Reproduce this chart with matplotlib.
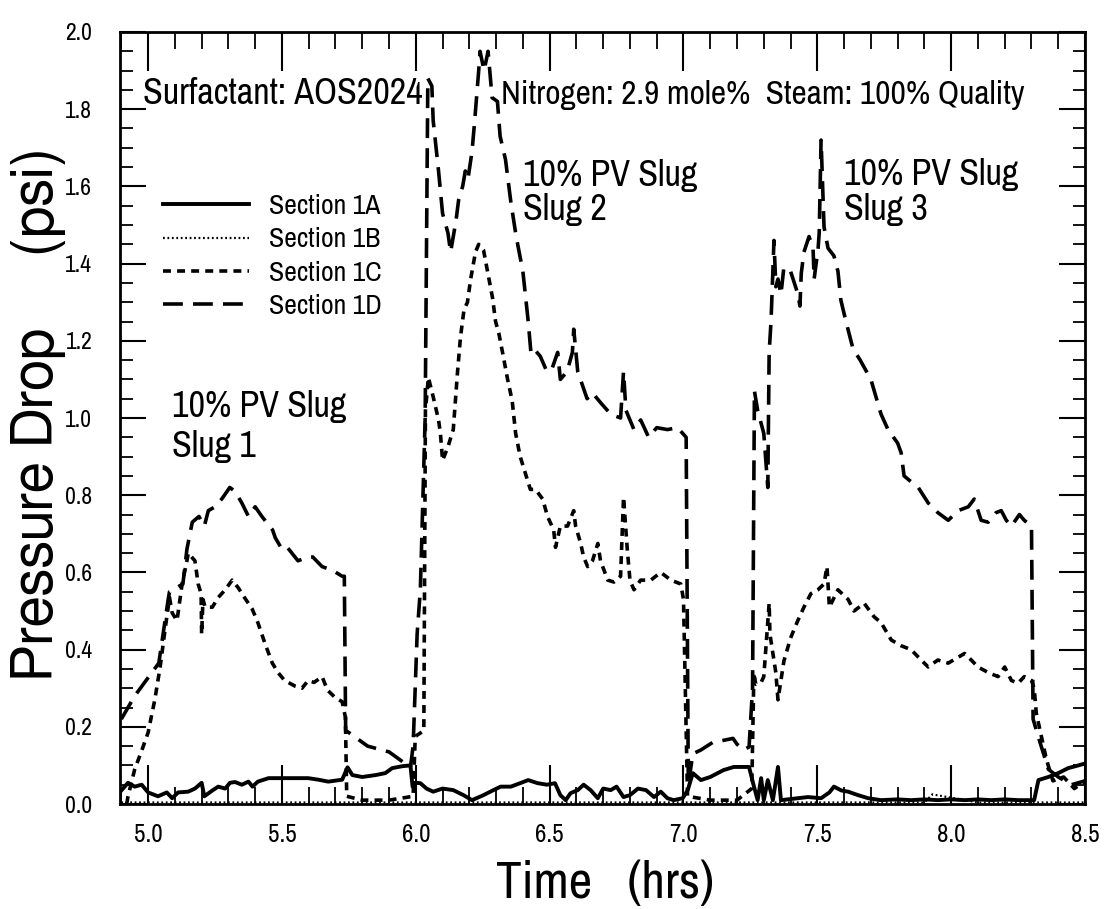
import matplotlib
matplotlib.use("Agg")
import matplotlib.pyplot as plt
from matplotlib.ticker import MultipleLocator, FormatStrFormatter

NARROW = ["Archivo Narrow", "PT Sans Narrow", "Liberation Sans", "DejaVu Sans"]
REGULAR = ["FreeSans", "Liberation Sans", "DejaVu Sans"]

# ---- Section 1A (solid) ----
time_1a = [4.90, 4.925, 4.95, 4.976, 5.00, 5.037, 5.07, 5.09, 5.112, 5.15, 5.175, 5.20,
           5.21, 5.24, 5.262, 5.288, 5.306, 5.325, 5.35, 5.375, 5.39, 5.41, 5.45, 5.486,
           5.52, 5.56, 5.598, 5.636, 5.673, 5.725, 5.745, 5.763, 5.80, 5.85, 5.886, 5.912,
           5.95, 5.98, 5.988, 5.998, 6.017, 6.04, 6.065, 6.10, 6.14, 6.178, 6.21, 6.253,
           6.29, 6.317, 6.355, 6.39, 6.42, 6.455, 6.49, 6.52, 6.54, 6.56, 6.578, 6.605,
           6.627, 6.653, 6.68, 6.70, 6.728, 6.75, 6.776, 6.80, 6.83, 6.86, 6.89, 6.915,
           6.94, 6.963, 6.997, 7.016, 7.027, 7.035, 7.065, 7.10, 7.15, 7.188, 7.245, 7.26,
           7.277, 7.29, 7.30, 7.315, 7.334, 7.353, 7.364, 7.427, 7.465, 7.514, 7.545,
           7.562, 7.59, 7.615, 7.652, 7.69, 7.738, 7.80, 7.85, 7.90, 7.95, 8.00, 8.05,
           8.10, 8.15, 8.20, 8.25, 8.31, 8.326, 8.363, 8.40, 8.437, 8.475, 8.50]
dp_1a = [0.035, 0.055, 0.045, 0.05, 0.03, 0.02, 0.03, 0.015, 0.03, 0.032, 0.04, 0.055,
         0.02, 0.035, 0.045, 0.04, 0.055, 0.057, 0.05, 0.058, 0.045, 0.058, 0.067, 0.067,
         0.067, 0.067, 0.067, 0.063, 0.058, 0.063, 0.095, 0.075, 0.07, 0.075, 0.08, 0.093,
         0.098, 0.10, 0.045, 0.055, 0.054, 0.04, 0.032, 0.04, 0.036, 0.023, 0.01, 0.023,
         0.036, 0.045, 0.045, 0.054, 0.062, 0.054, 0.05, 0.054, 0.023, 0.01, 0.028, 0.036,
         0.05, 0.036, 0.015, 0.04, 0.036, 0.045, 0.018, 0.023, 0.04, 0.036, 0.018, 0.032,
         0.015, 0.01, 0.015, 0.036, 0.062, 0.08, 0.062, 0.07, 0.088, 0.096, 0.096, 0.054,
         0.01, 0.067, 0.01, 0.062, 0.01, 0.096, 0.01, 0.015, 0.018, 0.015, 0.03,
         0.045, 0.035, 0.032, 0.023, 0.015, 0.01, 0.012, 0.01, 0.012, 0.01, 0.012, 0.01,
         0.012, 0.01, 0.012, 0.01, 0.01, 0.062, 0.07, 0.08, 0.093, 0.10, 0.105]

# ---- Section 1B (dotted) ----
time_1b = [4.90, 5.30, 5.70, 6.10, 6.50, 6.90, 7.30, 7.70, 7.90, 7.93, 8.10, 8.50]
dp_1b = [0.004, 0.004, 0.004, 0.004, 0.004, 0.004, 0.004, 0.004, 0.004, 0.025, 0.004, 0.004]

# ---- Section 1C (short dash) ----
time_1c = [4.92, 4.925, 4.95, 4.977, 5.00, 5.025, 5.045, 5.063, 5.075, 5.08, 5.09, 5.108,
           5.127, 5.145, 5.15, 5.175, 5.187, 5.198, 5.20, 5.205, 5.213, 5.24, 5.262, 5.288,
           5.314, 5.337, 5.36, 5.389, 5.41, 5.437, 5.464, 5.486, 5.51, 5.55, 5.575, 5.598,
           5.62, 5.65, 5.67, 5.70, 5.725, 5.737, 5.742, 5.80, 5.90, 5.99, 5.998, 6.03,
           6.036, 6.047, 6.065, 6.085, 6.092, 6.10, 6.12, 6.14, 6.156, 6.167, 6.18, 6.193,
           6.205, 6.223, 6.235, 6.253, 6.268, 6.287, 6.298, 6.31, 6.324, 6.343, 6.36, 6.373,
           6.39, 6.41, 6.428, 6.447, 6.474, 6.492, 6.515, 6.522, 6.54, 6.567, 6.59, 6.597,
           6.616, 6.627, 6.642, 6.66, 6.68, 6.69, 6.717, 6.74, 6.765, 6.776, 6.79, 6.80,
           6.815, 6.84, 6.878, 6.915, 6.953, 6.99, 7.00, 7.015, 7.10, 7.20, 7.255, 7.263,
           7.27, 7.29, 7.30, 7.32, 7.323, 7.334, 7.345, 7.353, 7.364, 7.375, 7.40, 7.427,
           7.45, 7.476, 7.502, 7.525, 7.536, 7.545, 7.577, 7.615, 7.637, 7.675, 7.712, 7.738,
           7.776, 7.813, 7.85, 7.888, 7.914, 7.95, 7.989, 8.026, 8.05, 8.075, 8.10, 8.14,
           8.175, 8.20, 8.225, 8.25, 8.273, 8.30, 8.31, 8.318, 8.337, 8.356, 8.38, 8.42,
           8.46, 8.50]
dp_1c = [0.0, 0.02, 0.09, 0.14, 0.185, 0.27, 0.355, 0.45, 0.51, 0.535, 0.495, 0.475,
         0.57, 0.63, 0.65, 0.63, 0.57, 0.545, 0.44, 0.53, 0.51, 0.51, 0.535, 0.555,
         0.58, 0.56, 0.535, 0.505, 0.47, 0.415, 0.365, 0.34, 0.32, 0.305, 0.30, 0.32,
         0.315, 0.33, 0.295, 0.275, 0.265, 0.225, 0.02, 0.01, 0.01, 0.02, 0.175, 0.19,
         1.02, 1.105, 1.055, 0.995, 0.96, 0.89, 0.925, 0.97, 1.12, 1.21, 1.28, 1.30,
         1.36, 1.43, 1.45, 1.435, 1.38, 1.31, 1.25, 1.22, 1.17, 1.10, 1.045, 0.96,
         0.90, 0.855, 0.815, 0.815, 0.79, 0.745, 0.71, 0.665, 0.72, 0.72, 0.76, 0.72,
         0.675, 0.64, 0.615, 0.63, 0.675, 0.63, 0.58, 0.575, 0.59, 0.795, 0.66, 0.58,
         0.555, 0.58, 0.58, 0.60, 0.58, 0.57, 0.53, 0.02, 0.01, 0.01, 0.04, 0.34,
         0.31, 0.315, 0.33, 0.52, 0.44, 0.39, 0.34, 0.27, 0.32, 0.37, 0.43, 0.475,
         0.51, 0.545, 0.555, 0.57, 0.615, 0.51, 0.555, 0.53, 0.50, 0.52, 0.485, 0.47,
         0.425, 0.41, 0.40, 0.373, 0.355, 0.373, 0.365, 0.38, 0.39, 0.373, 0.355, 0.34,
         0.33, 0.355, 0.32, 0.313, 0.33, 0.32, 0.30, 0.235, 0.175, 0.115, 0.06, 0.07,
         0.04, 0.06]

# ---- Section 1D (long dash) ----
time_1d = [4.90, 4.95, 5.04, 5.075, 5.08, 5.13, 5.145, 5.165, 5.19, 5.21, 5.225, 5.25,
           5.275, 5.305, 5.325, 5.35, 5.375, 5.40, 5.425, 5.465, 5.475, 5.50, 5.52, 5.56,
           5.595, 5.615, 5.65, 5.69, 5.725, 5.733, 5.738, 5.75, 5.82, 5.90, 5.95, 5.98,
           5.99, 6.005, 6.017, 6.035, 6.045, 6.06, 6.065, 6.085, 6.10, 6.12, 6.13, 6.15,
           6.16, 6.175, 6.185, 6.195, 6.21, 6.22, 6.235, 6.24, 6.255, 6.27, 6.285, 6.305,
           6.315, 6.335, 6.355, 6.375, 6.40, 6.42, 6.43, 6.44, 6.465, 6.49, 6.51, 6.53,
           6.54, 6.565, 6.585, 6.59, 6.605, 6.625, 6.64, 6.66, 6.69, 6.728, 6.765, 6.776,
           6.785, 6.815, 6.84, 6.87, 6.90, 6.94, 6.978, 6.997, 7.01, 7.018, 7.035, 7.065,
           7.11, 7.15, 7.185, 7.20, 7.225, 7.245, 7.258, 7.265, 7.277, 7.30, 7.315, 7.32,
           7.327, 7.338, 7.345, 7.353, 7.364, 7.375, 7.40, 7.428, 7.435, 7.44, 7.45, 7.469,
           7.484, 7.488, 7.503, 7.507, 7.514, 7.52, 7.525, 7.54, 7.562, 7.577, 7.588, 7.607,
           7.618, 7.633, 7.66, 7.70, 7.738, 7.764, 7.80, 7.813, 7.824, 7.85, 7.877, 7.914,
           7.95, 7.989, 8.026, 8.064, 8.086, 8.112, 8.138, 8.168, 8.187, 8.206, 8.225, 8.255,
           8.273, 8.30, 8.306, 8.325, 8.345, 8.363, 8.40, 8.45, 8.50]
dp_1d = [0.22, 0.28, 0.365, 0.53, 0.55, 0.57, 0.66, 0.73, 0.745, 0.72, 0.76, 0.77,
         0.79, 0.82, 0.81, 0.78, 0.745, 0.77, 0.745, 0.71, 0.69, 0.66, 0.665, 0.63,
         0.64, 0.64, 0.615, 0.605, 0.59, 0.59, 0.19, 0.185, 0.15, 0.135, 0.11, 0.095,
         0.15, 0.44, 0.555, 1.00, 1.88, 1.86, 1.77, 1.64, 1.53, 1.48, 1.43, 1.51,
         1.565, 1.60, 1.64, 1.62, 1.69, 1.77, 1.90, 1.95, 1.90, 1.95, 1.83, 1.82,
         1.73, 1.67, 1.56, 1.47, 1.38, 1.25, 1.17, 1.18, 1.16, 1.12, 1.13, 1.17,
         1.10, 1.12, 1.17, 1.23, 1.12, 1.08, 1.05, 1.065, 1.04, 1.01, 1.00, 1.12,
         1.02, 0.97, 0.995, 0.95, 0.975, 0.97, 0.975, 0.96, 0.95, 0.05, 0.13, 0.14,
         0.16, 0.165, 0.17, 0.155, 0.14, 0.148, 0.30, 1.07, 1.02, 0.96, 0.82, 1.17,
         1.25, 1.46, 1.34, 1.36, 1.32, 1.39, 1.38, 1.32, 1.29, 1.375, 1.43, 1.47,
         1.44, 1.36, 1.44, 1.48, 1.72, 1.60, 1.495, 1.44, 1.42, 1.38, 1.305, 1.25,
         1.22, 1.18, 1.15, 1.10, 1.01, 0.97, 0.935, 0.91, 0.85, 0.835, 0.82, 0.78,
         0.755, 0.735, 0.76, 0.77, 0.79, 0.735, 0.73, 0.755, 0.76, 0.735, 0.72, 0.75,
         0.735, 0.72, 0.22, 0.175, 0.13, 0.09, 0.07, 0.05, 0.06]

series_labels = ["Section 1A", "Section 1B", "Section 1C", "Section 1D"]

fig = plt.figure(figsize=(11.1, 9.09), dpi=100)
ax = fig.add_axes([0.1081, 0.1155, 0.8694, 0.8493])

lw = 2.6
ax.plot(time_1a, dp_1a, color="black", lw=2.8, linestyle="-", label=series_labels[0])
ax.plot(time_1b, dp_1b, color="black", lw=1.6, linestyle=(0, (0.8, 1.2)), label=series_labels[1])
ax.plot(time_1c, dp_1c, color="black", lw=lw, linestyle=(0, (2.2, 1.7)), label=series_labels[2])
ax.plot(time_1d, dp_1d, color="black", lw=lw, linestyle=(0, (5.5, 2.8)), label=series_labels[3])

ax.set_xlim(4.895, 8.5)
ax.set_ylim(0.0, 2.0)

ax.xaxis.set_major_locator(MultipleLocator(0.5))
ax.xaxis.set_minor_locator(MultipleLocator(0.1))
ax.yaxis.set_major_locator(MultipleLocator(0.2))
ax.yaxis.set_minor_locator(MultipleLocator(0.05))
ax.xaxis.set_major_formatter(FormatStrFormatter("%.1f"))
ax.yaxis.set_major_formatter(FormatStrFormatter("%.1f"))

ax.tick_params(axis="both", which="both", direction="in", top=True, right=True, colors="black")
ax.tick_params(axis="x", which="major", length=28, width=1.5, pad=14)
ax.tick_params(axis="x", which="minor", length=12, width=1.3)
ax.tick_params(axis="y", which="major", length=19, width=1.5, pad=20)
ax.tick_params(axis="y", which="minor", length=9, width=1.3)
for lab in ax.get_xticklabels():
    lab.set_fontfamily(NARROW)
    lab.set_fontsize(18)
for lab in ax.get_yticklabels():
    lab.set_fontfamily(NARROW)
    lab.set_fontsize(17)
for sp in ax.spines.values():
    sp.set_linewidth(2.0)

# annotations
TXT = 26
ax.text(4.981, 1.813, "Surfactant: AOS2024", family=NARROW, fontsize=TXT, va="baseline")
ax.text(6.317, 1.813, "Nitrogen: 2.9 mole%  Steam: 100% Quality", family=NARROW,
        fontsize=24, va="baseline")
ax.text(5.09, 1.003, "10% PV Slug", family=NARROW, fontsize=TXT, va="baseline")
ax.text(5.09, 0.90, "Slug 1", family=NARROW, fontsize=TXT, va="baseline")
ax.text(6.40, 1.60, "10% PV Slug", family=NARROW, fontsize=TXT, va="baseline")
ax.text(6.40, 1.513, "Slug 2", family=NARROW, fontsize=TXT, va="baseline")
ax.text(7.60, 1.604, "10% PV Slug", family=NARROW, fontsize=TXT, va="baseline")
ax.text(7.60, 1.513, "Slug 3", family=NARROW, fontsize=TXT, va="baseline")

leg = ax.legend(loc="upper left", bbox_to_anchor=(0.0446, 0.79), frameon=False,
                borderaxespad=0, borderpad=0, handlelength=3.1, handletextpad=0.7,
                labelspacing=0.3, prop={"family": NARROW, "size": 20})

fig.text(605 / 1110, 0.012, "Time   (hrs)", family=NARROW, fontsize=37,
         ha="center", va="baseline")
fig.text(0.035, 0.545, "Pressure Drop     (psi)", family=REGULAR, fontsize=41,
         ha="center", va="center", rotation=90)

fig.savefig("out.png", dpi=100)
